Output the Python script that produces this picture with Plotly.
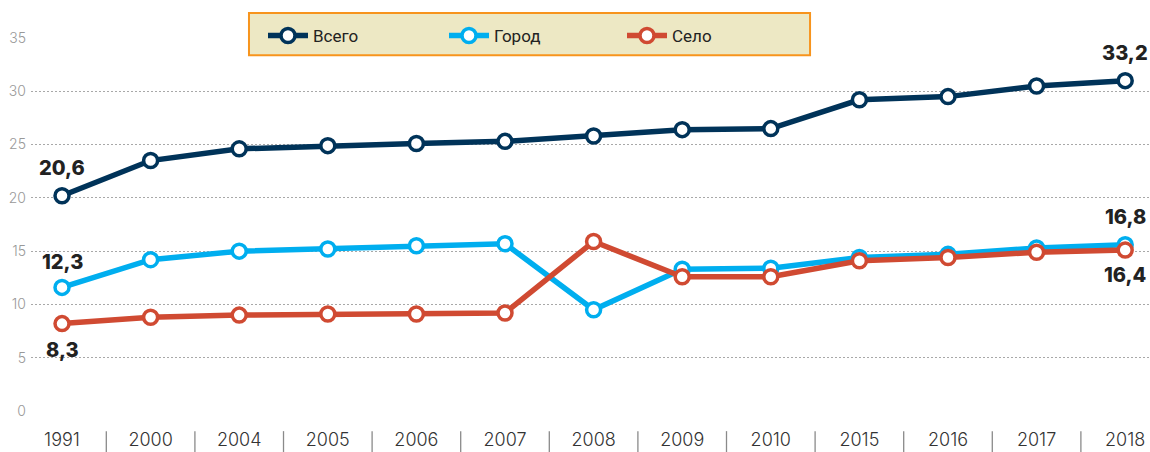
import plotly.graph_objects as go

years = ["1991", "2000", "2004", "2005", "2006", "2007", "2008", "2009", "2010", "2015", "2016", "2017", "2018"]
vsego = [20.2, 23.5, 24.6, 24.9, 25.1, 25.3, 25.8, 26.4, 26.5, 29.2, 29.5, 30.5, 31.0]
gorod = [11.6, 14.2, 15.0, 15.2, 15.5, 15.7, 9.5, 13.3, 13.4, 14.4, 14.7, 15.3, 15.6]
selo = [8.2, 8.8, 9.0, 9.1, 9.1, 9.2, 15.9, 12.6, 12.6, 14.1, 14.4, 14.9, 15.1]
y_ticks = [0, 5, 10, 15, 20, 25, 30, 35]

labels_start = ["20,6", "12,3", "8,3"]
labels_end = ["33,2", "16,8", "16,4"]

series = [
    ("Всего", vsego, "#003359", "legend"),
    ("Город", gorod, "#00AEEF", "legend2"),
    ("Село", selo, "#D04A32", "legend3"),
]

fig = go.Figure()
for name, vals, col, lg in series:
    fig.add_trace(go.Scatter(
        x=years, y=vals, name=name, mode="lines+markers", legend=lg,
        line=dict(color=col, width=5.5),
        marker=dict(symbol="circle", size=14, color="white", line=dict(color=col, width=3.5)),
        cliponaxis=False,
    ))

ann_font = dict(family="Inter, Lato, sans-serif", size=20, color="#222222", weight=800)
shifts_start = [28, 25, -26]
shifts_end = [28, 28, -25]
last = len(years) - 1
for i, (name, vals, col, lg) in enumerate(series):
    fig.add_annotation(x=0, y=vals[0], text=labels_start[i], showarrow=False,
                       yshift=shifts_start[i], font=ann_font, xref="x", yref="y")
    fig.add_annotation(x=last, y=vals[-1], text=labels_end[i], showarrow=False,
                       yshift=shifts_end[i], font=ann_font, xref="x", yref="y")

for k in range(len(years) - 1):
    fig.add_shape(type="line", xref="x", yref="paper", x0=k + 0.5, x1=k + 0.5,
                  y0=-0.054, y1=-0.11, line=dict(color="#8A8A8A", width=1.3))

# legend box
fig.add_shape(type="rect", xref="paper", yref="paper", x0=0.1948, x1=0.6962,
              y0=0.954, y1=1.067, fillcolor="#EDE8C4",
              line=dict(color="#F7941D", width=2), layer="above")

leg_common = dict(
    orientation="h", xref="container", yref="container",
    xanchor="left", yanchor="middle", y=1 - 36 / 452,
    bgcolor="rgba(0,0,0,0)", borderwidth=0,
    font=dict(family="Roboto, sans-serif", size=17, color="#222222"),
    itemwidth=40,
)

fig.update_layout(
    width=1150, height=452,
    margin=dict(l=31, r=0, t=38, b=41, autoexpand=False),
    paper_bgcolor="white", plot_bgcolor="white",
    showlegend=True,
    legend=dict(leg_common, x=263 / 1150),
    legend2=dict(leg_common, x=444 / 1150),
    legend3=dict(leg_common, x=622 / 1150),
    xaxis=dict(
        type="category", range=[-0.35, 12.28], showgrid=False, zeroline=False,
        showline=False, ticks="", ticklabelstandoff=16, automargin=False,
        tickfont=dict(family="Inter, sans-serif", size=18, color="#333333", weight=300),
    ),
    yaxis=dict(
        range=[0, 35], tickvals=y_ticks, showgrid=True, gridcolor="#A8A8A8",
        griddash="2px,2px", gridwidth=1, zeroline=False, showline=False, automargin=False,
        tickfont=dict(family="Inter, sans-serif", size=14, color="#999999", weight=300),
        ticklabelstandoff=4,
    ),
)

fig.write_html("out.html", config={"displayModeBar": False},
               post_script="document.body.style.margin='0';document.body.style.overflow='hidden';")
